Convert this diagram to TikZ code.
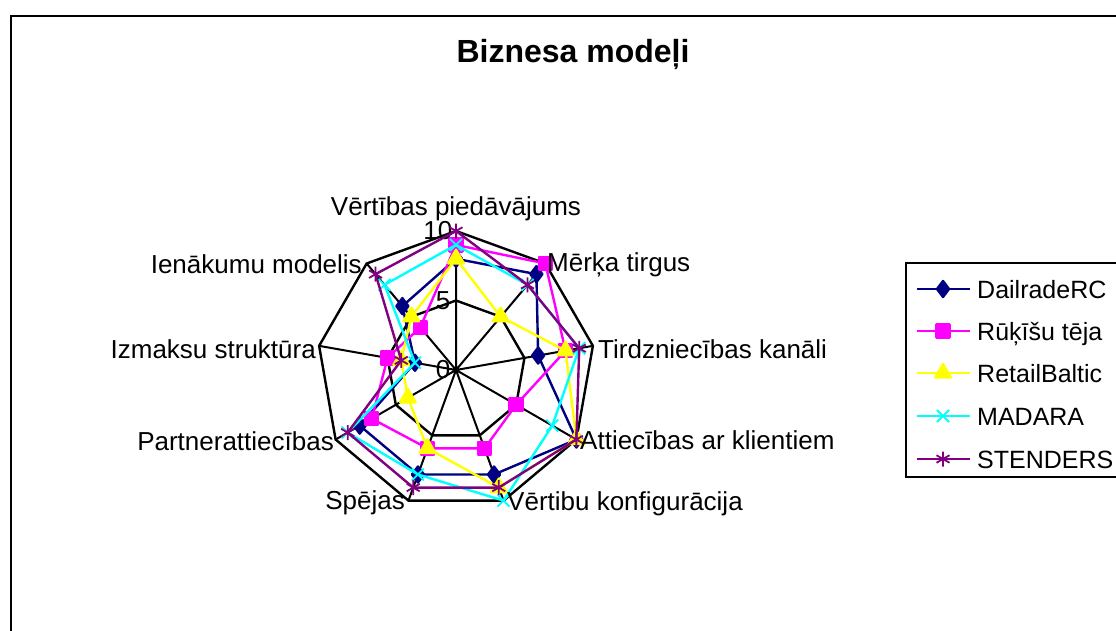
\documentclass[tikz,border=0pt]{standalone}
\usepackage{fontspec}
\setmainfont{Liberation Sans}
\usetikzlibrary{plotmarks}

\definecolor{dailrade}{RGB}{0,0,128}
\definecolor{rukisu}{RGB}{255,0,255}
\definecolor{retail}{RGB}{255,255,0}
\definecolor{madara}{RGB}{0,255,255}
\definecolor{stenders}{RGB}{128,0,128}

\begin{document}
\begin{tikzpicture}[x=1pt,y=1pt,
  lbl/.style={font=\fontsize{26}{30}\selectfont, inner sep=0pt},
  leg/.style={font=\fontsize{25}{30}\selectfont, inner sep=0pt},
  ring/.style={black, line width=2.4pt, line join=miter},
  spoke/.style={black, line width=2pt},
  series/.style={line width=2.4pt, line join=round},
  mk/.style={mark size=#1, mark options={solid, line width=1.8pt}}]
\useasboundingbox (0,0) rectangle (1116,-631);
\draw[line width=2.4pt] (11,-640) -- (11,-16) -- (1125,-16);
\node[font=\bfseries\fontsize{32}{38}\selectfont, inner sep=0pt, anchor=base] (title) at (573,-63) {Biznesa modeļi};

% radara diagramma
\begin{scope}[shift={(456pt,-370pt)}, x=13.9pt, y=13.9pt]
\draw[ring] (90:10) -- (50:10) -- (10:10) -- (-30:10) -- (-70:10) -- (-110:10) -- (-150:10) -- (170:10) -- (130:10) -- cycle;
\draw[ring] (90:5) -- (50:5) -- (10:5) -- (-30:5) -- (-70:5) -- (-110:5) -- (-150:5) -- (170:5) -- (130:5) -- cycle;
\draw[spoke] (0,0) -- (90:10) (0,0) -- (50:10) (0,0) -- (10:10) (0,0) -- (-30:10) (0,0) -- (-70:10)
  (0,0) -- (-110:10) (0,0) -- (-150:10) (0,0) -- (170:10) (0,0) -- (130:10);
\node[lbl, anchor=east] (t10) at (-0.25,10) {10};
\node[lbl, anchor=east] (t5) at (-0.4,5) {5};
\node[lbl, anchor=east] (t0) at (-0.4,0) {0};

\draw[series, dailrade] plot[mark=diamond*, mk=8pt, mark options={fill=dailrade}]
  coordinates {(90:8) (50:9) (10:6) (-30:10) (-70:8) (-110:8) (-150:8) (170:3) (130:6)} -- cycle;
\draw[series, rukisu] plot[mark=square*, mk=6.5pt, mark options={fill=rukisu}]
  coordinates {(90:9) (50:10) (10:8) (-30:5) (-70:6) (-110:6) (-150:7) (170:5) (130:4)} -- cycle;
\draw[series, retail] plot[mark=triangle*, mk=9pt, mark options={fill=retail}]
  coordinates {(90:8) (50:5) (10:8) (-30:10) (-70:9) (-110:6) (-150:4) (170:4) (130:5)} -- cycle;
\draw[series, madara] plot[mark=x, mk=8.5pt]
  coordinates {(90:9) (50:8) (10:9) (-30:8) (-70:10) (-110:8) (-150:9) (170:3) (130:8)} -- cycle;
\draw[series, stenders] plot[mark=asterisk, mk=7.5pt]
  coordinates {(90:10) (50:8) (10:9) (-30:10) (-70:9) (-110:9) (-150:9) (170:4) (130:9)} -- cycle;
\end{scope}

\node[lbl, anchor=base] (vp) at (456,-215) {Vērtības piedāvājums};
\node[lbl, anchor=base west] (mt) at (547,-271) {Mērķa tirgus};
\node[lbl, anchor=base west] (tk) at (598,-358) {Tirdzniecības kanāli};
\node[lbl, anchor=base west] (ak) at (580,-449) {Attiecības ar klientiem};
\node[lbl, anchor=base west] (vk) at (507,-510) {Vērtibu konfigurācija};
\node[lbl, anchor=base east] (sp) at (405,-509) {Spējas};
\node[lbl, anchor=base east] (pa) at (334,-450) {Partnerattiecības};
\node[lbl, anchor=base east] (is) at (316,-358) {Izmaksu struktūra};
\node[lbl, anchor=base east] (im) at (362,-273) {Ienākumu modelis};

% legenda
\draw[line width=2pt] (906,-263) rectangle (1125,-477);
\draw[series, dailrade] plot[mark=diamond*, mk=8pt, mark options={fill=dailrade}, mark indices={2}]
  coordinates {(917,-289) (943,-289) (970,-289)};
\draw[series, rukisu] plot[mark=square*, mk=6.5pt, mark options={fill=rukisu}, mark indices={2}]
  coordinates {(917,-331) (943,-331) (970,-331)};
\draw[series, retail] plot[mark=triangle*, mk=9pt, mark options={fill=retail}, mark indices={2}]
  coordinates {(917,-373) (943,-373) (970,-373)};
\draw[series, madara] plot[mark=x, mk=8.5pt, mark indices={2}]
  coordinates {(917,-416) (943,-416) (970,-416)};
\draw[series, stenders] plot[mark=asterisk, mk=7.5pt, mark indices={2}]
  coordinates {(917,-459) (943,-459) (970,-459)};
\node[leg, anchor=base west] (lg1) at (977,-298) {DailradeRC};
\node[leg, anchor=base west] (lg2) at (977,-340) {Rūķīšu tēja};
\node[leg, anchor=base west] (lg3) at (977,-382) {RetailBaltic};
\node[leg, anchor=base west] (lg4) at (977,-425) {MADARA};
\node[leg, anchor=base west] (lg5) at (977,-468) {STENDERS};
\end{tikzpicture}
\end{document}
